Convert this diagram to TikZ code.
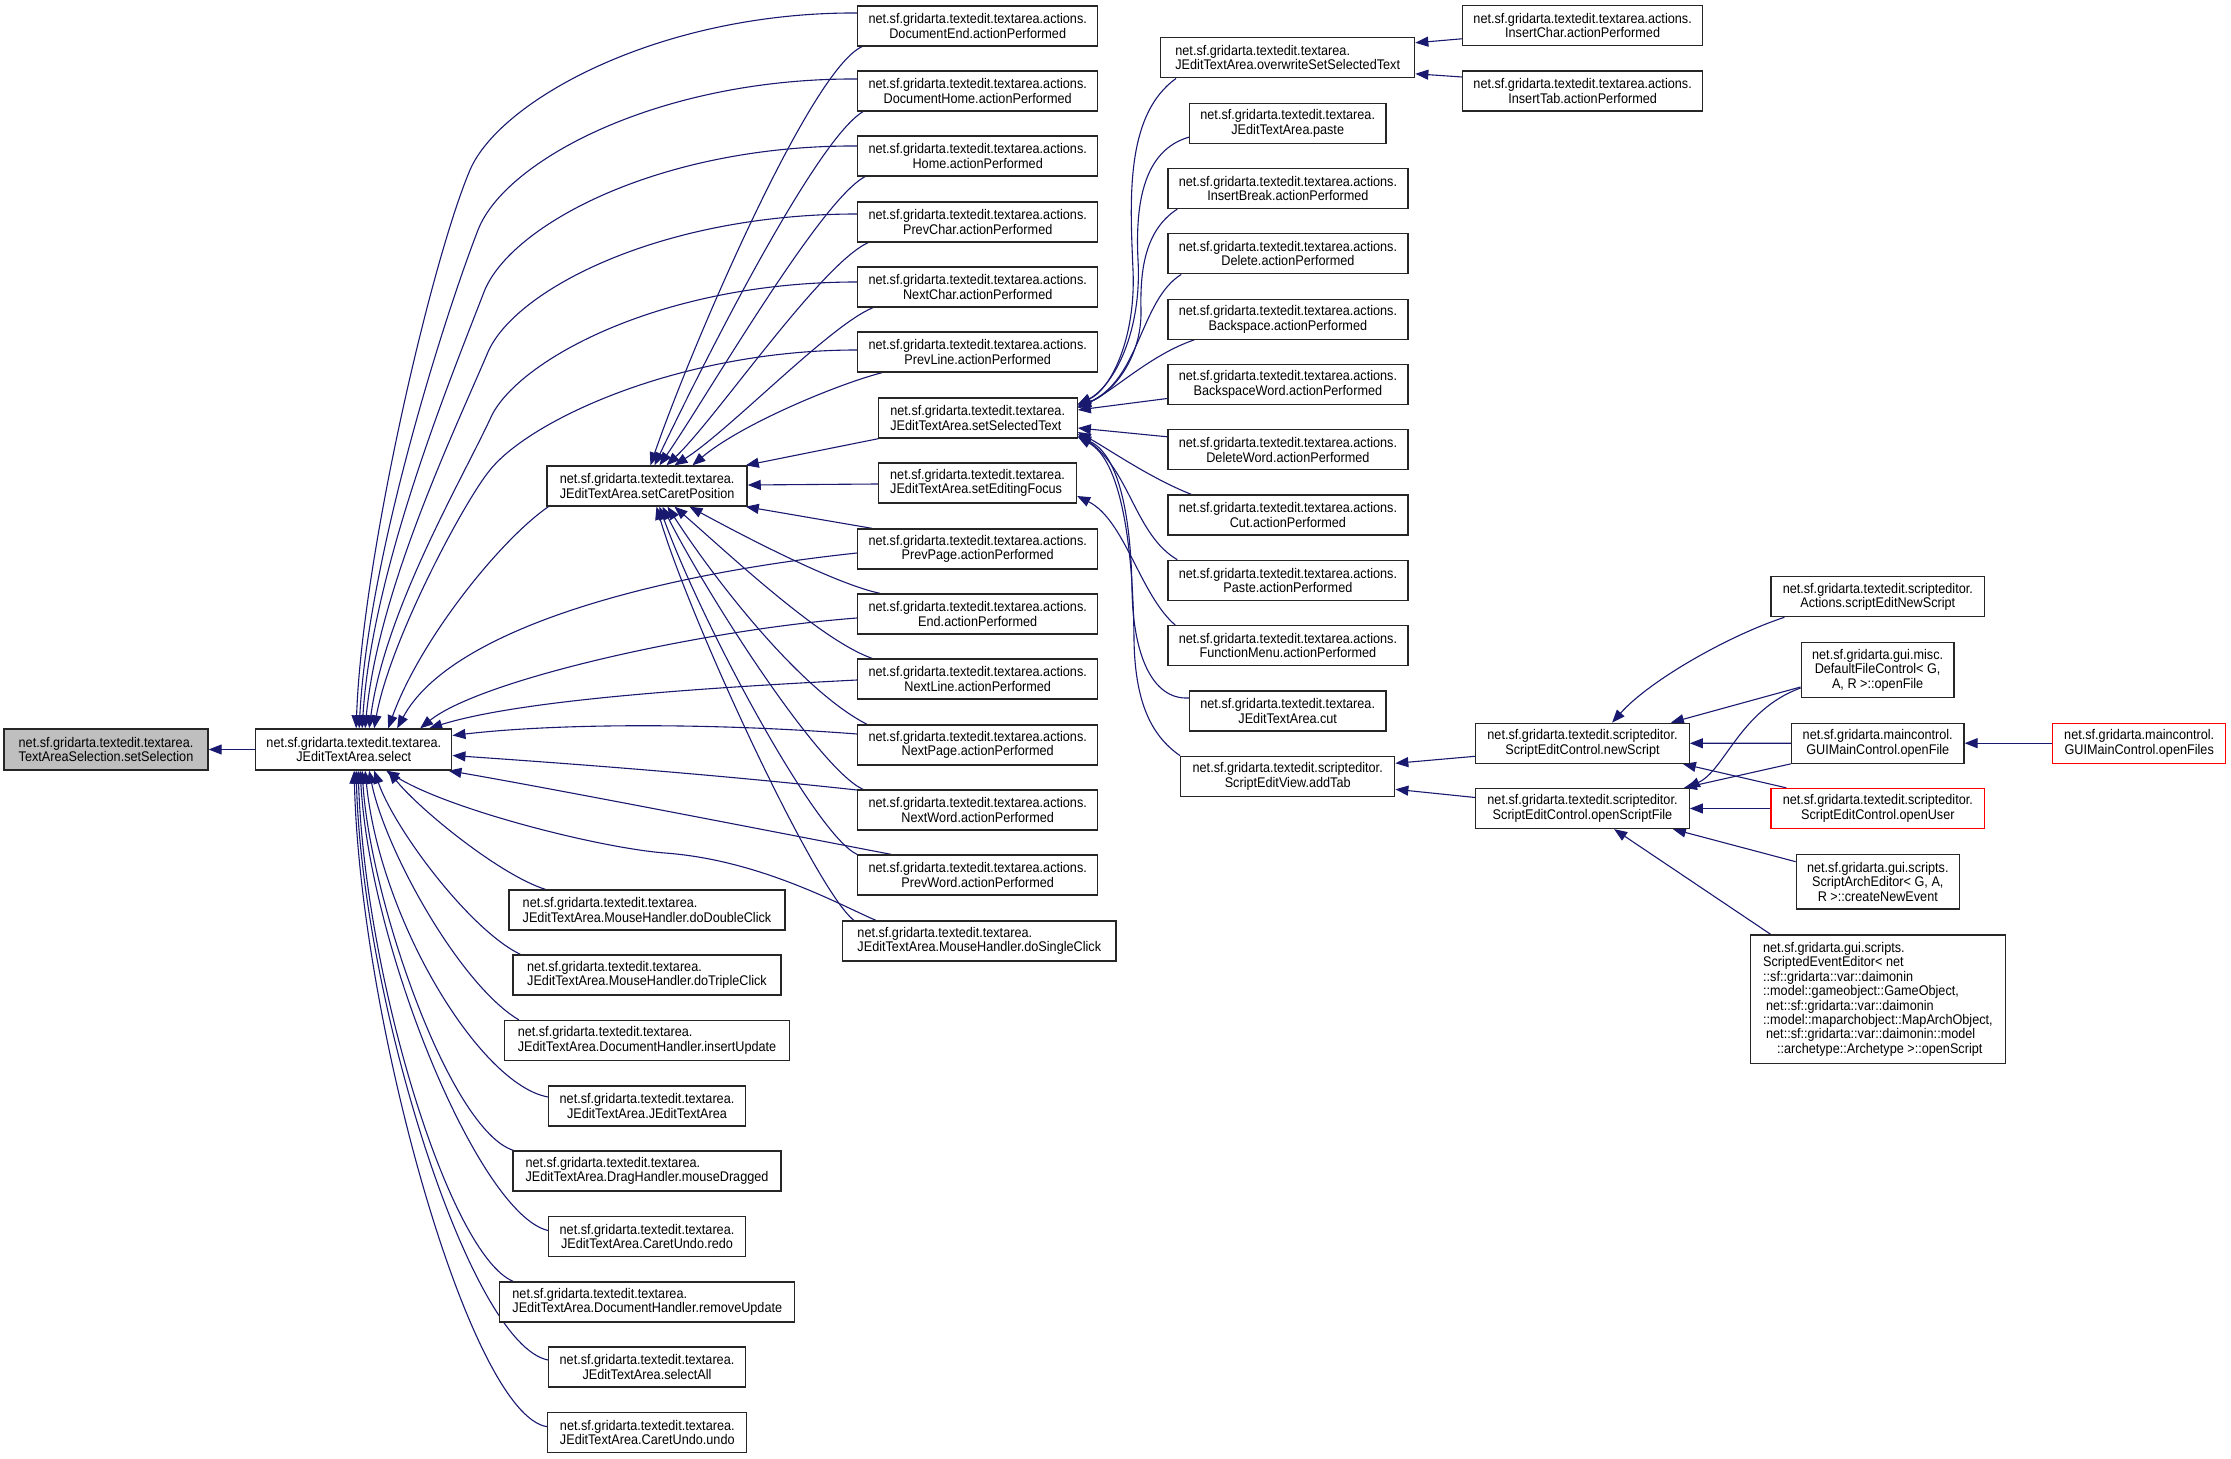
\documentclass[tikz,border=0pt]{standalone}
\usepackage{fontspec}
\setmainfont{Liberation Sans}[FakeStretch=0.905]
\usetikzlibrary{arrows.meta,calc}
\definecolor{edgeblue}{RGB}{25,25,112}
\definecolor{boxgray}{RGB}{191,191,191}
\pgfdeclarelayer{bg}
\pgfsetlayers{bg,main}
\begin{document}
\begin{tikzpicture}[x=0.5pt,y=-0.5pt,
  nbox/.style={draw=black!85, line width=0.65pt, fill=white, inner sep=0pt, minimum height=20pt, align=center, font=\fontsize{7pt}{7.2pt}\selectfont},
  lbox/.style={nbox, align=left},
  rbox/.style={nbox, draw=red},
  edge/.style={draw=edgeblue, line width=0.55pt, -{Triangle[length=6.5pt,width=5pt]}}]
\useasboundingbox (0,0) rectangle (2231,1459);

% ---- column 0/1
\node[lbox, fill=boxgray, minimum width=102pt, minimum height=20.5pt] (setSel) at (106,749.5) {net.sf.gridarta.textedit.textarea.\\TextAreaSelection.setSelection};
\node[nbox, minimum width=98pt, minimum height=20.5pt] (select) at (353.8,749.5) {net.sf.gridarta.textedit.textarea.\\JEditTextArea.select};

% ---- column 2
\node[lbox, minimum width=100pt] (caret) at (647.1,486) {net.sf.gridarta.textedit.textarea.\\JEditTextArea.setCaretPosition};
\node[lbox, minimum width=138pt] (dbl) at (647,910) {net.sf.gridarta.textedit.textarea.\\JEditTextArea.MouseHandler.doDoubleClick};
\node[lbox, minimum width=134pt] (tpl) at (647,975) {net.sf.gridarta.textedit.textarea.\\JEditTextArea.MouseHandler.doTripleClick};
\node[lbox, minimum width=142.5pt] (insUpd) at (647,1040.5) {net.sf.gridarta.textedit.textarea.\\JEditTextArea.DocumentHandler.insertUpdate};
\node[nbox, minimum width=98.25pt] (ctor) at (647,1106) {net.sf.gridarta.textedit.textarea.\\JEditTextArea.JEditTextArea};
\node[lbox, minimum width=134pt] (drag) at (647,1171) {net.sf.gridarta.textedit.textarea.\\JEditTextArea.DragHandler.mouseDragged};
\node[nbox, minimum width=98.25pt] (redo) at (647,1236.5) {net.sf.gridarta.textedit.textarea.\\JEditTextArea.CaretUndo.redo};
\node[lbox, minimum width=147.5pt] (remUpd) at (647.3,1302) {net.sf.gridarta.textedit.textarea.\\JEditTextArea.DocumentHandler.removeUpdate};
\node[nbox, minimum width=98.25pt] (selAll) at (647,1367) {net.sf.gridarta.textedit.textarea.\\JEditTextArea.selectAll};
\node[nbox, minimum width=99.5pt] (undo) at (647.3,1432.7) {net.sf.gridarta.textedit.textarea.\\JEditTextArea.CaretUndo.undo};

% ---- column 3
\node[nbox, minimum width=120pt] (docEnd) at (977.7,26) {net.sf.gridarta.textedit.textarea.actions.\\DocumentEnd.actionPerformed};
\node[nbox, minimum width=120pt] (docHome) at (977.7,91) {net.sf.gridarta.textedit.textarea.actions.\\DocumentHome.actionPerformed};
\node[nbox, minimum width=120pt] (home) at (977.7,156) {net.sf.gridarta.textedit.textarea.actions.\\Home.actionPerformed};
\node[nbox, minimum width=120pt] (prevChar) at (977.7,222) {net.sf.gridarta.textedit.textarea.actions.\\PrevChar.actionPerformed};
\node[nbox, minimum width=120pt] (nextChar) at (977.7,287) {net.sf.gridarta.textedit.textarea.actions.\\NextChar.actionPerformed};
\node[nbox, minimum width=120pt] (prevLine) at (977.7,352) {net.sf.gridarta.textedit.textarea.actions.\\PrevLine.actionPerformed};
\node[lbox, minimum width=99.5pt] (selText) at (977.7,418) {net.sf.gridarta.textedit.textarea.\\JEditTextArea.setSelectedText};
\node[lbox, minimum width=99pt] (editFocus) at (977.5,483) {net.sf.gridarta.textedit.textarea.\\JEditTextArea.setEditingFocus};
\node[nbox, minimum width=120pt] (prevPage) at (977.7,549) {net.sf.gridarta.textedit.textarea.actions.\\PrevPage.actionPerformed};
\node[nbox, minimum width=120pt] (endA) at (977.7,614) {net.sf.gridarta.textedit.textarea.actions.\\End.actionPerformed};
\node[nbox, minimum width=120pt] (nextLine) at (977.7,679) {net.sf.gridarta.textedit.textarea.actions.\\NextLine.actionPerformed};
\node[nbox, minimum width=120pt] (nextPage) at (977.7,745) {net.sf.gridarta.textedit.textarea.actions.\\NextPage.actionPerformed};
\node[nbox, minimum width=120pt] (nextWord) at (977.7,810) {net.sf.gridarta.textedit.textarea.actions.\\NextWord.actionPerformed};
\node[nbox, minimum width=120pt] (prevWord) at (977.7,875) {net.sf.gridarta.textedit.textarea.actions.\\PrevWord.actionPerformed};
\node[lbox, minimum width=136.75pt] (single) at (979.3,941) {net.sf.gridarta.textedit.textarea.\\JEditTextArea.MouseHandler.doSingleClick};

% ---- column 4
\node[lbox, minimum width=127pt] (overwrite) at (1287.7,57.8) {net.sf.gridarta.textedit.textarea.\\JEditTextArea.overwriteSetSelectedText};
\node[nbox, minimum width=98.25pt] (pasteJ) at (1287.7,123.2) {net.sf.gridarta.textedit.textarea.\\JEditTextArea.paste};
\node[nbox, minimum width=120pt] (insBreak) at (1287.9,188.5) {net.sf.gridarta.textedit.textarea.actions.\\InsertBreak.actionPerformed};
\node[nbox, minimum width=120pt] (delA) at (1287.9,253.8) {net.sf.gridarta.textedit.textarea.actions.\\Delete.actionPerformed};
\node[nbox, minimum width=120pt] (bsp) at (1287.9,319.2) {net.sf.gridarta.textedit.textarea.actions.\\Backspace.actionPerformed};
\node[nbox, minimum width=120pt] (bspW) at (1287.9,384.5) {net.sf.gridarta.textedit.textarea.actions.\\BackspaceWord.actionPerformed};
\node[nbox, minimum width=120pt] (delW) at (1287.9,449.8) {net.sf.gridarta.textedit.textarea.actions.\\DeleteWord.actionPerformed};
\node[nbox, minimum width=120pt] (cutA) at (1287.9,515) {net.sf.gridarta.textedit.textarea.actions.\\Cut.actionPerformed};
\node[nbox, minimum width=120pt] (pasteA) at (1287.9,580.3) {net.sf.gridarta.textedit.textarea.actions.\\Paste.actionPerformed};
\node[nbox, minimum width=120pt] (fmenu) at (1287.9,645.7) {net.sf.gridarta.textedit.textarea.actions.\\FunctionMenu.actionPerformed};
\node[nbox, minimum width=98.25pt] (cutJ) at (1287.7,711) {net.sf.gridarta.textedit.textarea.\\JEditTextArea.cut};
\node[nbox, minimum width=107pt] (addTab) at (1287.7,776.3) {net.sf.gridarta.textedit.scripteditor.\\ScriptEditView.addTab};

% ---- column 5
\node[nbox, minimum width=120pt] (insChar) at (1582.6,25.8) {net.sf.gridarta.textedit.textarea.actions.\\InsertChar.actionPerformed};
\node[nbox, minimum width=120pt] (insTab) at (1582.6,91) {net.sf.gridarta.textedit.textarea.actions.\\InsertTab.actionPerformed};
\node[nbox, minimum width=106.75pt] (newScript) at (1582.5,743.3) {net.sf.gridarta.textedit.scripteditor.\\ScriptEditControl.newScript};
\node[nbox, minimum width=106.75pt] (openSF) at (1582.5,808.5) {net.sf.gridarta.textedit.scripteditor.\\ScriptEditControl.openScriptFile};

% ---- column 6
\node[nbox, minimum width=106.8pt] (sEditNew) at (1877.8,596.7) {net.sf.gridarta.textedit.scripteditor.\\Actions.scriptEditNewScript};
\node[nbox, minimum width=76.4pt, minimum height=27.3pt] (dfc) at (1877.6,670) {net.sf.gridarta.gui.misc.\\DefaultFileControl< G,\\A, R >::openFile};
\node[nbox, minimum width=86.25pt] (guiOpen) at (1877.7,743.2) {net.sf.gridarta.maincontrol.\\GUIMainControl.openFile};
\node[rbox, minimum width=106.8pt] (openUser) at (1877.8,808.5) {net.sf.gridarta.textedit.scripteditor.\\ScriptEditControl.openUser};
\node[nbox, minimum width=81.5pt, minimum height=27.35pt] (sae) at (1877.8,881.7) {net.sf.gridarta.gui.scripts.\\ScriptArchEditor< G, A,\\R >::createNewEvent};
\node[lbox, minimum width=127.5pt, minimum height=64.15pt] (seEd) at (1877.9,999.2) {net.sf.gridarta.gui.scripts.\\ScriptedEventEditor< net\\::sf::gridarta::var::daimonin\\::model::gameobject::GameObject,\\\hspace*{1.5pt}net::sf::gridarta::var::daimonin\\::model::maparchobject::MapArchObject,\\\hspace*{1.5pt}net::sf::gridarta::var::daimonin::model\\\hspace*{7pt}::archetype::Archetype >::openScript};

% ---- column 7
\node[rbox, minimum width=86.5pt] (openFiles) at (2139.2,743.2) {net.sf.gridarta.maincontrol.\\GUIMainControl.openFiles};

\begin{pgfonlayer}{bg}
% into setSelection
\draw[edge] (select.west) -- (setSel.east);

% top fan into select
\draw[edge] ($(docEnd.west)+(0,-13)$) .. controls (660,12) and (500,100) .. (470,170) .. controls (431,262) and (362,560) .. ($(select.north west)+(101,0)$);
\draw[edge] ($(docHome.west)+(0,-12)$) .. controls (660,78) and (505,160) .. (478,230) .. controls (442,323) and (368,560) .. ($(select.north west)+(104,0)$);
\draw[edge] ($(home.west)+(0,-10)$) .. controls (660,145) and (510,225) .. (484,292) .. controls (450,380) and (372,570) .. ($(select.north west)+(107,0)$);
\draw[edge] ($(prevChar.west)+(0,-8)$) .. controls (660,214) and (515,290) .. (488,352) .. controls (455,430) and (378,590) .. ($(select.north west)+(110,0)$);
\draw[edge] ($(nextChar.west)+(0,-5)$) .. controls (660,282) and (520,360) .. (492,415) .. controls (462,480) and (385,610) .. ($(select.north west)+(114,0)$);
\draw[edge] ($(prevLine.west)+(0,-2)$) .. controls (680,350) and (530,420) .. (490,470) .. controls (465,500) and (390,640) .. ($(select.north west)+(119,0)$);
\draw[edge] ($(caret.south west)+(2,0)$) .. controls (500,540) and (420,640) .. ($(select.north west)+(133,0)$);

% right side into select
\draw[edge] ($(prevPage.west)+(0,4)$) .. controls (650,575) and (450,630) .. ($(select.north west)+(142,0)$);
\draw[edge] ($(endA.west)+(0,4)$) .. controls (700,630) and (480,680) .. ($(select.north west)+(165,0)$);
\draw[edge] ($(nextLine.west)+(0,1)$) .. controls (700,688) and (520,700) .. ($(select.north west)+(174,0)$);
\draw[edge] ($(nextPage.west)+(0,-11)$) .. controls (700,722) and (550,724) .. ($(select.east)+(0,-14)$);
\draw[edge] ($(nextWord.west)+(0,-20)$) .. controls (700,773) and (560,763) .. ($(select.east)+(0,6)$);
\draw[edge] ($(prevWord.north west)+(34,0)$) .. controls (780,833) and (560,790) .. ($(select.south east)+(-4,0)$);
\draw[edge] ($(single.north west)+(34,0)$) .. controls (840,905) and (760,860) .. (665,853) .. controls (600,848) and (450,810) .. ($(select.south west)+(131,0)$);

% bottom fan into select
\draw[edge] ($(dbl.north west)+(37,0)$) .. controls (500,875) and (420,810) .. ($(select.south west)+(133,0)$);
\draw[edge] ($(tpl.north west)+(8,0)$) .. controls (470,930) and (395,830) .. ($(select.south west)+(119,0)$);
\draw[edge] ($(insUpd.north west)+(15,0)$) .. controls (460,985) and (385,850) .. ($(select.south west)+(114,0)$);
\draw[edge] ($(ctor.west)+(0,-9)$) .. controls (480,1085) and (380,920) .. ($(select.south west)+(110,0)$);
\draw[edge] ($(drag.north west)+(1,0)$) .. controls (450,1130) and (370,900) .. ($(select.south west)+(107,0)$);
\draw[edge] ($(redo.west)+(0,-6)$) .. controls (480,1215) and (370,950) .. ($(select.south west)+(105,0)$);
\draw[edge] ($(remUpd.north west)+(14,0)$) .. controls (450,1255) and (365,980) .. ($(select.south west)+(103,0)$);
\draw[edge] ($(selAll.west)+(0,-7)$) .. controls (470,1345) and (362,1000) .. ($(select.south west)+(101,0)$);
\draw[edge] ($(undo.west)+(0,-6)$) .. controls (470,1415) and (360,1020) .. ($(select.south west)+(99,0)$);

% top fan into setCaretPosition
\draw[edge] ($(docEnd.south west)+(5,0)$) .. controls (810,70) and (690,350) .. ($(caret.north west)+(104,0)$);
\draw[edge] ($(docHome.south west)+(6,0)$) .. controls (815,140) and (700,370) .. ($(caret.north west)+(108,0)$);
\draw[edge] ($(home.south west)+(8,0)$) .. controls (820,200) and (705,400) .. ($(caret.north west)+(113,0)$);
\draw[edge] ($(prevChar.south west)+(11,0)$) .. controls (820,265) and (715,420) .. ($(caret.north west)+(120,0)$);
\draw[edge] ($(nextChar.south west)+(16,0)$) .. controls (830,325) and (730,430) .. ($(caret.north west)+(128,0)$);
\draw[edge] ($(prevLine.south west)+(25,0)$) .. controls (835,385) and (740,425) .. ($(caret.north west)+(146,0)$);
\draw[edge] ($(selText.south west)+(1,0)$) -- ($(caret.north east)+(-2,0)$);
\draw[edge] ($(editFocus.west)+(0,1)$) -- ($(caret.east)+(0,-1)$);

% bottom fan into setCaretPosition
\draw[edge] ($(prevPage.north west)+(15,0)$) -- ($(caret.south east)+(-2,0)$);
\draw[edge] ($(endA.north west)+(23,0)$) .. controls (840,585) and (760,545) .. ($(caret.south west)+(143,0)$);
\draw[edge] ($(nextLine.north west)+(15,0)$) .. controls (820,640) and (730,555) .. ($(caret.south west)+(128,0)$);
\draw[edge] ($(nextPage.north west)+(10,0)$) .. controls (800,690) and (715,580) .. ($(caret.south west)+(121,0)$);
\draw[edge] ($(nextWord.north west)+(6,0)$) .. controls (820,770) and (710,600) .. ($(caret.south west)+(116,0)$);
\draw[edge] (prevWord.north west) .. controls (815,835) and (700,620) .. ($(caret.south west)+(113,0)$);
\draw[edge] ($(single.north west)+(12,0)$) .. controls (815,890) and (690,620) .. ($(caret.south west)+(110,0)$);

% into setSelectedText
\draw[edge] ($(overwrite.south west)+(16,0)$) .. controls (1125,115) and (1130,200) .. (1133,270) .. controls (1136,340) and (1110,390) .. ($(selText.east)+(0,-14)$);
\draw[edge] ($(pasteJ.west)+(0,14)$) .. controls (1145,150) and (1135,200) .. (1138,260) .. controls (1142,330) and (1115,385) .. ($(selText.east)+(0,-13)$);
\draw[edge] ($(insBreak.south west)+(10,0)$) .. controls (1145,230) and (1140,270) .. (1141,310) .. controls (1142,360) and (1110,395) .. ($(selText.east)+(0,-12)$);
\draw[edge] ($(delA.south west)+(14,0)$) .. controls (1140,300) and (1140,380) .. ($(selText.east)+(0,-11)$);
\draw[edge] ($(bsp.south west)+(27,0)$) .. controls (1150,355) and (1115,390) .. ($(selText.east)+(0,-10)$);
\draw[edge] ($(bspW.west)+(0,14)$) -- ($(selText.east)+(0,-8)$);
\draw[edge] ($(delW.west)+(0,-13)$) -- ($(selText.east)+(0,10)$);
\draw[edge] ($(cutA.north west)+(24,0)$) .. controls (1150,478) and (1110,450) .. ($(selText.east)+(0,14)$);
\draw[edge] ($(pasteA.north west)+(10,0)$) .. controls (1135,535) and (1130,470) .. ($(selText.east)+(0,16)$);
\draw[edge] ($(cutJ.west)+(0,-13)$) .. controls (1150,700) and (1133,650) .. (1132,590) .. controls (1131,520) and (1120,455) .. ($(selText.east)+(0,18)$);
\draw[edge] (addTab.north west) .. controls (1150,735) and (1135,700) .. (1134,640) .. controls (1133,540) and (1120,460) .. ($(selText.east)+(0,19)$);

% into setEditingFocus
\draw[edge] ($(fmenu.north west)+(8,0)$) .. controls (1140,595) and (1125,520) .. ($(editFocus.east)+(0,13)$);

% into overwriteSetSelectedText
\draw[edge] ($(insChar.west)+(0,13)$) -- ($(overwrite.east)+(0,-15)$);
\draw[edge] ($(insTab.west)+(0,-14)$) -- ($(overwrite.east)+(0,16)$);

% into addTab
\draw[edge] ($(newScript.west)+(0,13)$) -- ($(addTab.east)+(0,-13)$);
\draw[edge] ($(openSF.west)+(0,-11)$) -- ($(addTab.east)+(0,13)$);

% into newScript
\draw[edge] ($(sEditNew.south west)+(14,0)$) .. controls (1730,635) and (1650,680) .. ($(newScript.north west)+(137,0)$);
\draw[edge] ($(dfc.west)+(0,17)$) -- ($(newScript.north east)+(-19,0)$);
\draw[edge] (guiOpen.west) -- (newScript.east);
\draw[edge] ($(openUser.north west)+(16,0)$) -- ($(newScript.south east)+(-7,0)$);

% into openScriptFile
\draw[edge] ($(dfc.west)+(0,18)$) .. controls (1740,710) and (1725,770) .. ($(openSF.north east)+(-3,0)$);
\draw[edge] (guiOpen.south west) -- ($(openSF.north east)+(-6,0)$);
\draw[edge] (openUser.west) -- (openSF.east);
\draw[edge] ($(sae.west)+(0,-20)$) -- ($(openSF.south east)+(-17,0)$);
\draw[edge] ($(seEd.north west)+(21,0)$) -- ($(openSF.south west)+(139,0)$);

% into GUIMainControl.openFile
\draw[edge] (openFiles.west) -- (guiOpen.east);
\end{pgfonlayer}
\end{tikzpicture}
\end{document}
